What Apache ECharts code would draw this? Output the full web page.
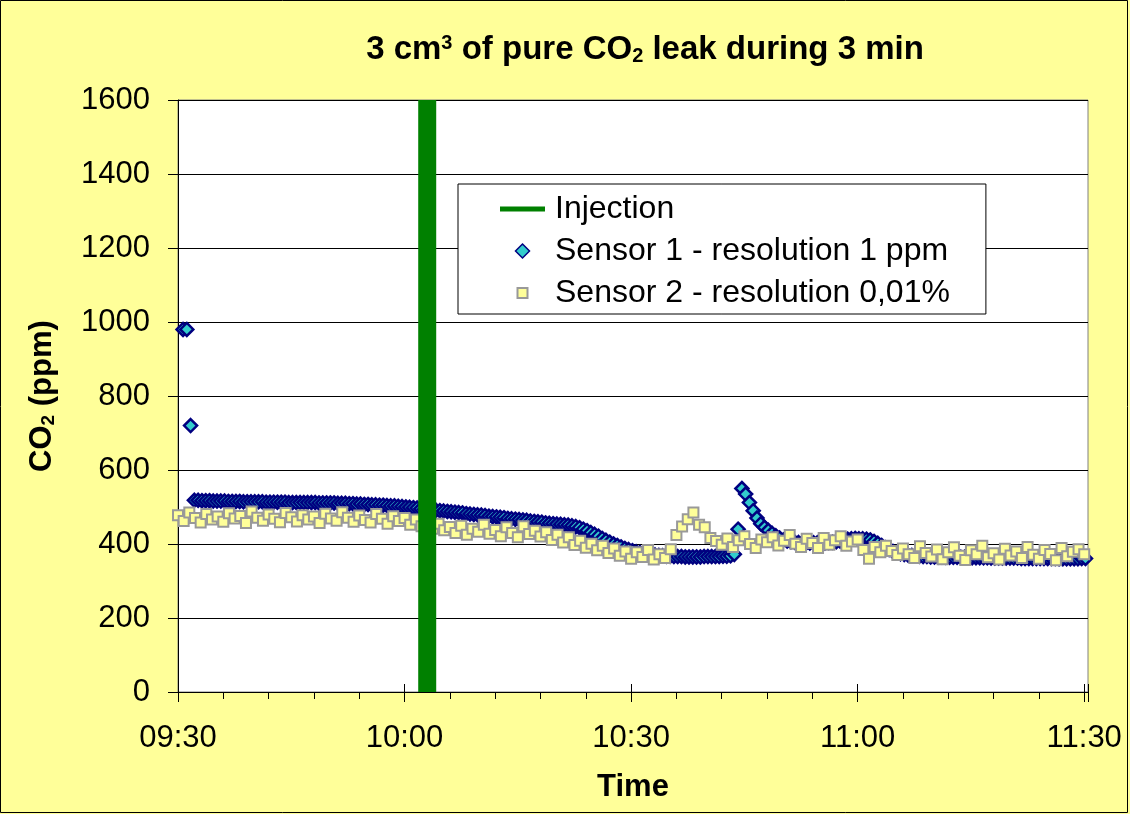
<!DOCTYPE html>
<html><head><meta charset="utf-8">
<script src="https://cdn.jsdelivr.net/npm/echarts@6/dist/echarts.min.js"></script>
<style>html,body{margin:0;padding:0;background:#FFFF99}#c{width:1130px;height:814px}</style>
</head><body><div id="c"></div>
<script>
// ---- data ----
const xTickLabels = ['09:30', '10:00', '10:30', '11:00', '11:30'];
const axisStart = '09:30:00';
const injectionTime = '10:03:00';
const injectionValues = [0, 1600];

const sensor1Start = '09:30:40';
const sensor1StepSec = 30;
const sensor1Values = [
  980, 980, 720, 518, 518, 517, 517, 517, 516, 516,
  516, 516, 515, 515, 515, 515, 514, 514, 514, 514,
  514, 514, 513, 513, 513, 513, 513, 513, 512, 512,
  512, 512, 512, 512, 512, 512, 511, 511, 511, 511,
  511, 510, 510, 510, 509, 509, 508, 508, 507, 507,
  506, 506, 505, 505, 504, 503, 503, 502, 501, 500,
  499, 498, 497, 495, 494, 493, 492, 491, 490, 489,
  488, 487, 486, 485, 484, 482, 481, 480, 479, 478,
  477, 475, 474, 473, 472, 471, 469, 468, 467, 466,
  465, 464, 462, 461, 460, 459, 457, 456, 455, 454,
  453, 452, 451, 449, 447, 444, 440, 436, 431, 426,
  421, 415, 410, 405, 400, 396, 392, 388, 385, 382,
  379, 377, 375, 373, 371, 370, 369, 368, 367, 367,
  366, 366, 366, 365, 365, 365, 365, 365, 366, 366,
  366, 366, 366, 367, 367, 368, 372, 440, 550, 535,
  512, 490, 470, 455, 445, 437, 429, 422, 416, 411,
  408, 406, 405, 404, 403, 403, 403, 403, 403, 403,
  403, 404, 405, 406, 408, 411, 413, 414, 415, 414,
  414, 413, 411, 407, 402, 396, 390, 385, 380, 377,
  374, 372, 370, 369, 368, 367, 366, 366, 365, 365,
  365, 365, 364, 364, 364, 364, 364, 364, 363, 363,
  363, 363, 363, 363, 362, 362, 362, 362, 362, 362,
  362, 362, 361, 361, 361, 361, 361, 361, 361, 361,
  361, 361, 360, 360, 360, 360, 360, 360, 361, 361,
  362
];

const sensor2Start = '09:30:00';
const sensor2StepSec = 45;
const sensor2Values = [
  478, 462, 485, 470, 458, 481, 466, 474,
  460, 483, 469, 476, 457, 488, 471, 463,
  480, 468, 459, 484, 472, 461, 478, 466,
  474, 457, 482, 469, 463, 486, 471, 460,
  477, 465, 458, 481, 468, 455, 475, 462,
  470, 452, 466, 448, 458, 441, 455, 437,
  446, 430, 449, 425, 441, 433, 452, 428,
  438, 421, 445, 430, 418, 448, 427, 436,
  420, 432, 411, 425, 404, 418, 397, 409,
  390, 401, 383, 395, 376, 388, 368, 380,
  360, 378, 365, 384, 358, 372, 362, 386,
  424, 447, 467, 485, 452, 445, 416, 408,
  398, 415, 392, 410, 421, 400, 389, 412,
  405, 418, 396, 409, 424, 401, 392, 414,
  403, 389, 416, 398, 410, 421, 395, 407,
  412, 384, 360, 392, 378, 395, 381, 370,
  388, 372, 362, 394, 376, 366, 385, 359,
  378, 391, 368, 357, 383, 372, 395, 364,
  375, 358, 387, 369, 380, 362, 392, 371,
  360, 384, 373, 356, 389, 367, 379, 386,
  372
];

// ---- helpers ----
function toMin(str) {
  const p = str.split(':').map(Number);
  const a = axisStart.split(':').map(Number);
  return (p[0] * 60 + p[1] + (p[2] || 0) / 60) - (a[0] * 60 + a[1] + (a[2] || 0) / 60);
}
function buildSeries(start, stepSec, values) {
  const t0 = toMin(start);
  return values.map((v, i) => [t0 + i * stepSec / 60, v]);
}

const FONT = '"Liberation Sans", Arial, sans-serif';
const chart = echarts.init(document.getElementById('c'), null, { renderer: 'canvas' });
const tInj = toMin(injectionTime);

const xBase = { type: 'value', min: 0, max: 120.5, gridIndex: 0, position: 'bottom', splitLine: { show: false } };

chart.setOption({
  animation: false,
  backgroundColor: '#FFFF99',
  title: {
    text: '3 cm{sup|3} of pure CO{sub|2} leak during 3 min',
    left: 640, top: 28, textAlign: 'center',
    textStyle: {
      fontFamily: FONT, fontWeight: 'bold', fontSize: 33, color: '#000',
      rich: {
        sup: { fontFamily: FONT, fontWeight: 'bold', fontSize: 20, color: '#000', verticalAlign: 'top' },
        sub: { fontFamily: FONT, fontWeight: 'bold', fontSize: 20, color: '#000', verticalAlign: 'bottom' }
      }
    }
  },
  grid: {
    left: 178, right: 42, top: 100, bottom: 122,
    show: true, backgroundColor: '#ffffff', borderColor: '#808080', borderWidth: 1,
    outerBoundsMode: 'none', containLabel: false
  },
  legend: {
    left: 458, top: 184, orient: 'vertical',
    padding: [7, 36, 3, 42], itemGap: 6,
    itemWidth: 45, itemHeight: 14,
    backgroundColor: '#ffffff', borderColor: '#000', borderWidth: 1, borderRadius: 0,
    selectedMode: false,
    textStyle: { fontFamily: FONT, fontSize: 32, color: '#000', lineHeight: 36, padding: [0, 0, 0, 5] },
    data: [
      { name: 'Injection', icon: 'path://M0,0L45,0L45,5L0,5Z', itemStyle: { color: '#008000', borderWidth: 0 } },
      { name: 'Sensor 1 - resolution 1 ppm', icon: 'path://M0,-7L7,0L0,7L-7,0Z', itemStyle: { borderWidth: 1.5 } },
      { name: 'Sensor 2 - resolution 0,01%', icon: 'path://M-7,-7M7,7M-5,-5L5,-5L5,5L-5,5Z' }
    ]
  },
  xAxis: [
    Object.assign({}, xBase, {
      interval: 30,
      name: 'Time', nameLocation: 'middle', nameGap: 80,
      nameTextStyle: { fontFamily: FONT, fontWeight: 'bold', fontSize: 31, color: '#000' },
      axisLine: { show: true, lineStyle: { color: '#000', width: 1 } },
      axisTick: { show: true, inside: false, length: 10, lineStyle: { color: '#000', width: 1 } },
      axisLabel: {
        margin: 31, fontFamily: FONT, fontSize: 31, color: '#000',
        formatter: v => (Math.abs(v % 30) < 1e-6 ? xTickLabels[Math.round(v / 30)] : '')
      }
    }),
    Object.assign({}, xBase, {
      interval: 6,
      axisLine: { show: false },
      axisTick: { show: true, inside: false, length: 7, lineStyle: { color: '#000', width: 1 } },
      axisLabel: { show: false }
    }),
    Object.assign({}, xBase, {
      interval: 30,
      axisLine: { show: false },
      axisTick: { show: true, inside: true, length: 8, lineStyle: { color: '#000', width: 1 } },
      axisLabel: { show: false }
    })
  ],
  yAxis: {
    type: 'value', min: 0, max: 1600, interval: 200,
    name: 'CO{sub|2} (ppm)', nameLocation: 'middle', nameGap: 120,
    nameTextStyle: {
      fontFamily: FONT, fontWeight: 'bold', fontSize: 31, color: '#000',
      rich: { sub: { fontFamily: FONT, fontWeight: 'bold', fontSize: 19, color: '#000', verticalAlign: 'bottom' } }
    },
    axisLine: { show: true, lineStyle: { color: '#000', width: 1 } },
    axisTick: { show: true, inside: false, length: 10, lineStyle: { color: '#000', width: 1 } },
    axisLabel: { margin: 28, fontFamily: FONT, fontSize: 31, color: '#000', formatter: v => String(v) },
    splitLine: { show: true, lineStyle: { color: '#000', width: 1 } }
  },
  series: [
    {
      name: 'Sensor 1 - resolution 1 ppm', type: 'scatter', xAxisIndex: 0, silent: true, z: 3,
      symbol: 'diamond', symbolSize: 13,
      itemStyle: { color: '#33CCCC', borderColor: '#000080', borderWidth: 2.5, opacity: 1 },
      data: buildSeries(sensor1Start, sensor1StepSec, sensor1Values)
    },
    {
      name: 'Sensor 2 - resolution 0,01%', type: 'scatter', xAxisIndex: 0, silent: true, z: 4,
      symbol: 'rect', symbolSize: 10,
      itemStyle: { color: '#FFFF99', borderColor: '#999999', borderWidth: 2, opacity: 1 },
      data: buildSeries(sensor2Start, sensor2StepSec, sensor2Values)
    },
    {
      name: 'Injection', type: 'line', xAxisIndex: 0, silent: true, z: 5,
      symbol: 'none', color: '#008000',
      lineStyle: { color: '#008000', width: 18, cap: 'butt' },
      itemStyle: { color: '#008000' },
      data: injectionValues.map(v => [tInj, v])
    }
  ],
  graphic: [{
    type: 'rect', silent: true, z: 100,
    shape: { x: 0.5, y: 0.5, width: 1127, height: 812 },
    style: { fill: 'none', stroke: '#000', lineWidth: 1 }
  }]
});
</script></body></html>
